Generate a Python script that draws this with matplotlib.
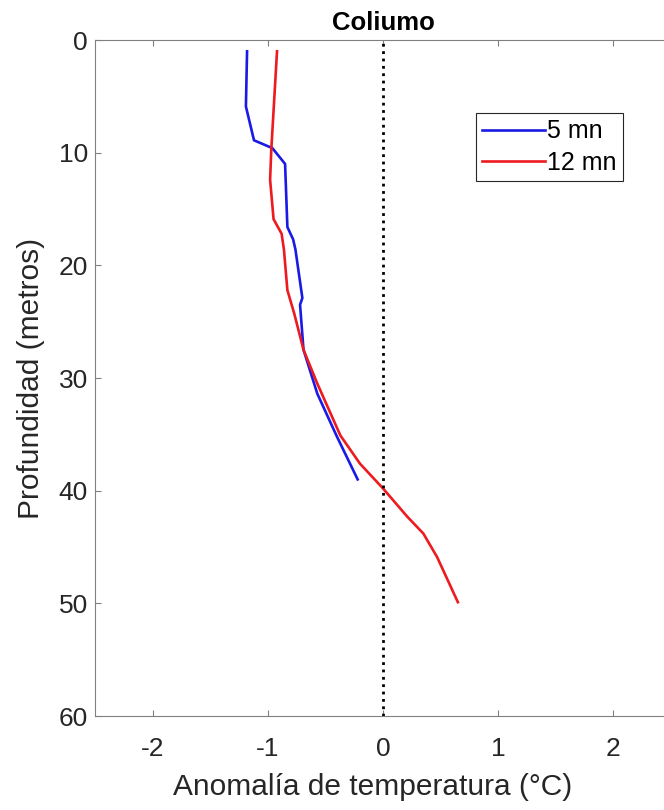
import matplotlib
matplotlib.use("Agg")
import matplotlib.pyplot as plt

plt.rcParams['font.family'] = ['Liberation Sans', 'DejaVu Sans']
plt.rcParams['axes.unicode_minus'] = False

# perfil 5 mn
depth_5 = [1, 5.9, 8.9, 9.6, 11.0, 16.6, 17.7, 18.6, 22.9, 23.5, 27.5, 31.4, 35.2, 39]
anom_5 = [-1.18, -1.19, -1.12, -0.96, -0.85, -0.83, -0.78, -0.76, -0.70, -0.72, -0.69, -0.57, -0.40, -0.22]

# perfil 12 mn
depth_12 = [1, 9.8, 12.4, 15.9, 17.2, 18.6, 22.2, 24.3, 27.5, 30.5, 35.1, 37.6, 39.8, 42.3, 43.8, 45.9, 49.9]
anom_12 = [-0.92, -0.97, -0.98, -0.95, -0.88, -0.86, -0.83, -0.77, -0.69, -0.57, -0.37, -0.20, 0.0, 0.21, 0.35, 0.47, 0.65]

fig = plt.figure(figsize=(6.64, 8.10), dpi=100)
ax = fig.add_axes([95/664, 94/810, 576/664, 676/810])

ax.plot(anom_5, depth_5, color=(0.1, 0.1, 0.9), lw=1.9, label='5 mn')
ax.plot(anom_12, depth_12, color=(0.93, 0.1, 0.12), lw=1.9, label='12 mn')
ax.axvline(0, color='k', ls=':', lw=2)

ax.set_xlim(-2.5, 2.5)
ax.set_ylim(60, 0)
ax.set_xticks([-2, -1, 0, 1, 2])
ax.set_yticks([0, 10, 20, 30, 40, 50, 60])
ax.tick_params(direction='in', top=True, right=True, labelsize=19, length=4,
               color='#808080', labelcolor='#262626')
ax.tick_params(axis='x', pad=15)
ax.tick_params(axis='y', pad=5)
for s in ax.spines.values():
    s.set_color('#808080')

ax.set_xlabel('Anomalía de temperatura (°C)', fontsize=21.5, color='#262626')
ax.set_ylabel('Profundidad (metros)', fontsize=21.5, color='#262626', labelpad=10)
ax.xaxis.set_label_coords((373 - 95) / 576, -0.085)
ax.set_title('Coliumo', fontsize=18.5, fontweight='bold', pad=7)

leg = ax.legend(loc='upper left', bbox_to_anchor=(381/576, 1 - 73/676), fontsize=18,
                fancybox=False, edgecolor='#262626', framealpha=1,
                handlelength=2.5, handletextpad=0.1, borderpad=0.25, labelspacing=0.3,
                borderaxespad=0)
leg.get_frame().set_linewidth(0.8)

fig.savefig('out.png', dpi=100)
